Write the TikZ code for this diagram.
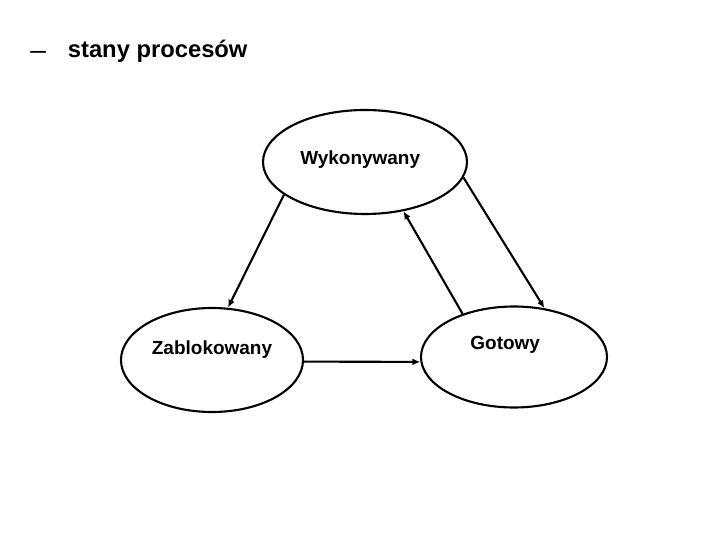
\documentclass[tikz,border=0pt]{standalone}
\usepackage{fontspec}
\setmainfont{Liberation Sans}
\usetikzlibrary{arrows.meta, positioning, shapes.geometric}
\colorlet{colLinia}{black}
\tikzset{
  stanBase/.style={
    ellipse, draw=colLinia, line width=1.5pt, inner sep=0pt,
    minimum width=4.6cm, minimum height=2.6cm
  },
  etykietaStanu/.style={font=\fontsize{13.5}{16}\selectfont\bfseries, text=colLinia},
  flecha/.style={-{Latex[length=2mm, width=1.7mm]}, line width=1.5pt, colLinia},
  tytul/.style={font=\fontsize{16.9}{20}\selectfont\bfseries, inner sep=0pt},
}

\begin{document}
\begin{tikzpicture}
    \useasboundingbox (0,0) rectangle (18,13.5);
    \node[tytul, anchor=base west] (tytul) at (0.75,12.05) {\raisebox{-0.05cm}{\mdseries\fontsize{20}{20}\selectfont –}\hspace{0.55cm}stany procesów};

    \node[stanBase, minimum width=5.1cm, label={[etykietaStanu, xshift=-0.12cm, yshift=0.05cm]center:Wykonywany}] (wyk) at (9.125,9.45) {};
    \node[stanBase, minimum width=4.55cm, label={[etykietaStanu, yshift=0.25cm]center:Zablokowany}] (zab) at (5.3,4.5) {};
    \node[stanBase, minimum width=4.65cm, minimum height=2.525cm, label={[etykietaStanu, xshift=-0.22cm, yshift=0.3cm]center:Gotowy}] (got) at (12.85,4.575) {};

    \draw[flecha] (wyk.202) -- (zab.73);
    \draw[flecha] (zab.-1) -- (got.183);
    \draw[flecha] (got.140) -- (wyk.-52);
    \draw[flecha] (wyk.-9) -- (got.58);
\end{tikzpicture}
\end{document}
